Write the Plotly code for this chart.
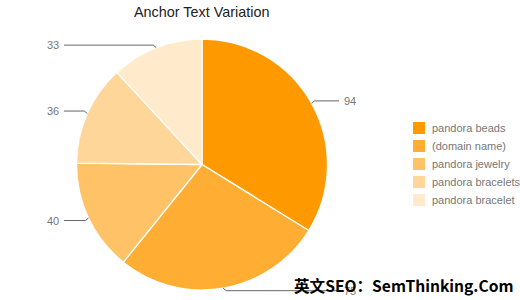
import math
import plotly.graph_objects as go

# ---- data ----
categories = ["pandora beads", "(domain name)", "pandora jewelry", "pandora bracelets", "pandora bracelet"]
values = [94, 75, 40, 36, 33]
colors = ["#FF9900", "#FFAD33", "#FFC266", "#FFD699", "#FFEBCC"]
title_text = "Anchor Text Variation"
watermark = "英文SEO：SemThinking.Com"

W, H = 520, 300
CX, CY, R = 202, 164.5, 125.5

fig = go.Figure()
fig.add_trace(go.Pie(
    labels=categories, values=values, sort=False, direction="clockwise", rotation=0,
    marker=dict(colors=colors, line=dict(color="white", width=1.3)),
    textinfo="none", hoverinfo="label+value+percent", showlegend=False,
    domain=dict(x=[(CX - R) / W, (CX + R) / W], y=[(H - CY - R) / H, (H - CY + R) / H]),
))

# leader lines and value labels computed from the data
total = sum(values)
cum = 0
shapes = []
annotations = []
for v in values:
    theta = 2 * math.pi * (cum + v / 2) / total
    cum += v
    s, c = math.sin(theta), math.cos(theta)
    x0 = CX + R * s
    y0 = CY - R * c
    side = 1 if s > 0 else -1
    dy = 2.5 if c < 0 else -2.5
    x1 = x0 + 3 * side
    y1 = y0 + dy
    x2 = 339 if side > 0 else 64
    shapes.append(dict(type="path", xref="x", yref="y",
                       path=f"M{x0},{y0} L{x1},{y1} L{x2},{y1}",
                       line=dict(color="#666666", width=1)))
    annotations.append(dict(x=x2 + 3 * side, y=y1, xref="x", yref="y", text=str(v),
                            showarrow=False, xanchor="left" if side > 0 else "right",
                            yanchor="middle", font=dict(family="Liberation Sans, Arial", size=11, color="#777777")))

# custom legend (swatches + labels) built from categories/colors
for i, (name, col) in enumerate(zip(categories, colors)):
    yc = 128 + 18 * i
    shapes.append(dict(type="rect", xref="x", yref="y", x0=413, x1=425, y0=yc - 6, y1=yc + 6,
                       fillcolor=col, line=dict(width=0)))
    annotations.append(dict(x=430, y=yc, xref="x", yref="y", text=name, showarrow=False,
                            xanchor="left", yanchor="middle",
                            font=dict(family="Liberation Sans, Arial", size=11, color="#777777")))

annotations.append(dict(x=201, y=12, xref="x", yref="y", text=title_text, showarrow=False,
                        xanchor="center", yanchor="middle",
                        font=dict(family="Liberation Sans, Arial", size=14.4, color="#222222")))
annotations.append(dict(x=515, y=285, xref="x", yref="y", text="<b>" + watermark + "</b>", showarrow=False,
                        xanchor="right", yanchor="middle",
                        font=dict(family="Noto Sans CJK SC", size=15.6, color="#000000")))

fig.update_layout(
    width=W, height=H, margin=dict(l=0, r=0, t=0, b=0),
    paper_bgcolor="white", plot_bgcolor="rgba(0,0,0,0)",
    xaxis=dict(range=[0, W], visible=False, fixedrange=True),
    yaxis=dict(range=[H, 0], visible=False, fixedrange=True),
    showlegend=False,
    shapes=shapes, annotations=annotations,
)
fig.write_html("out.html")
